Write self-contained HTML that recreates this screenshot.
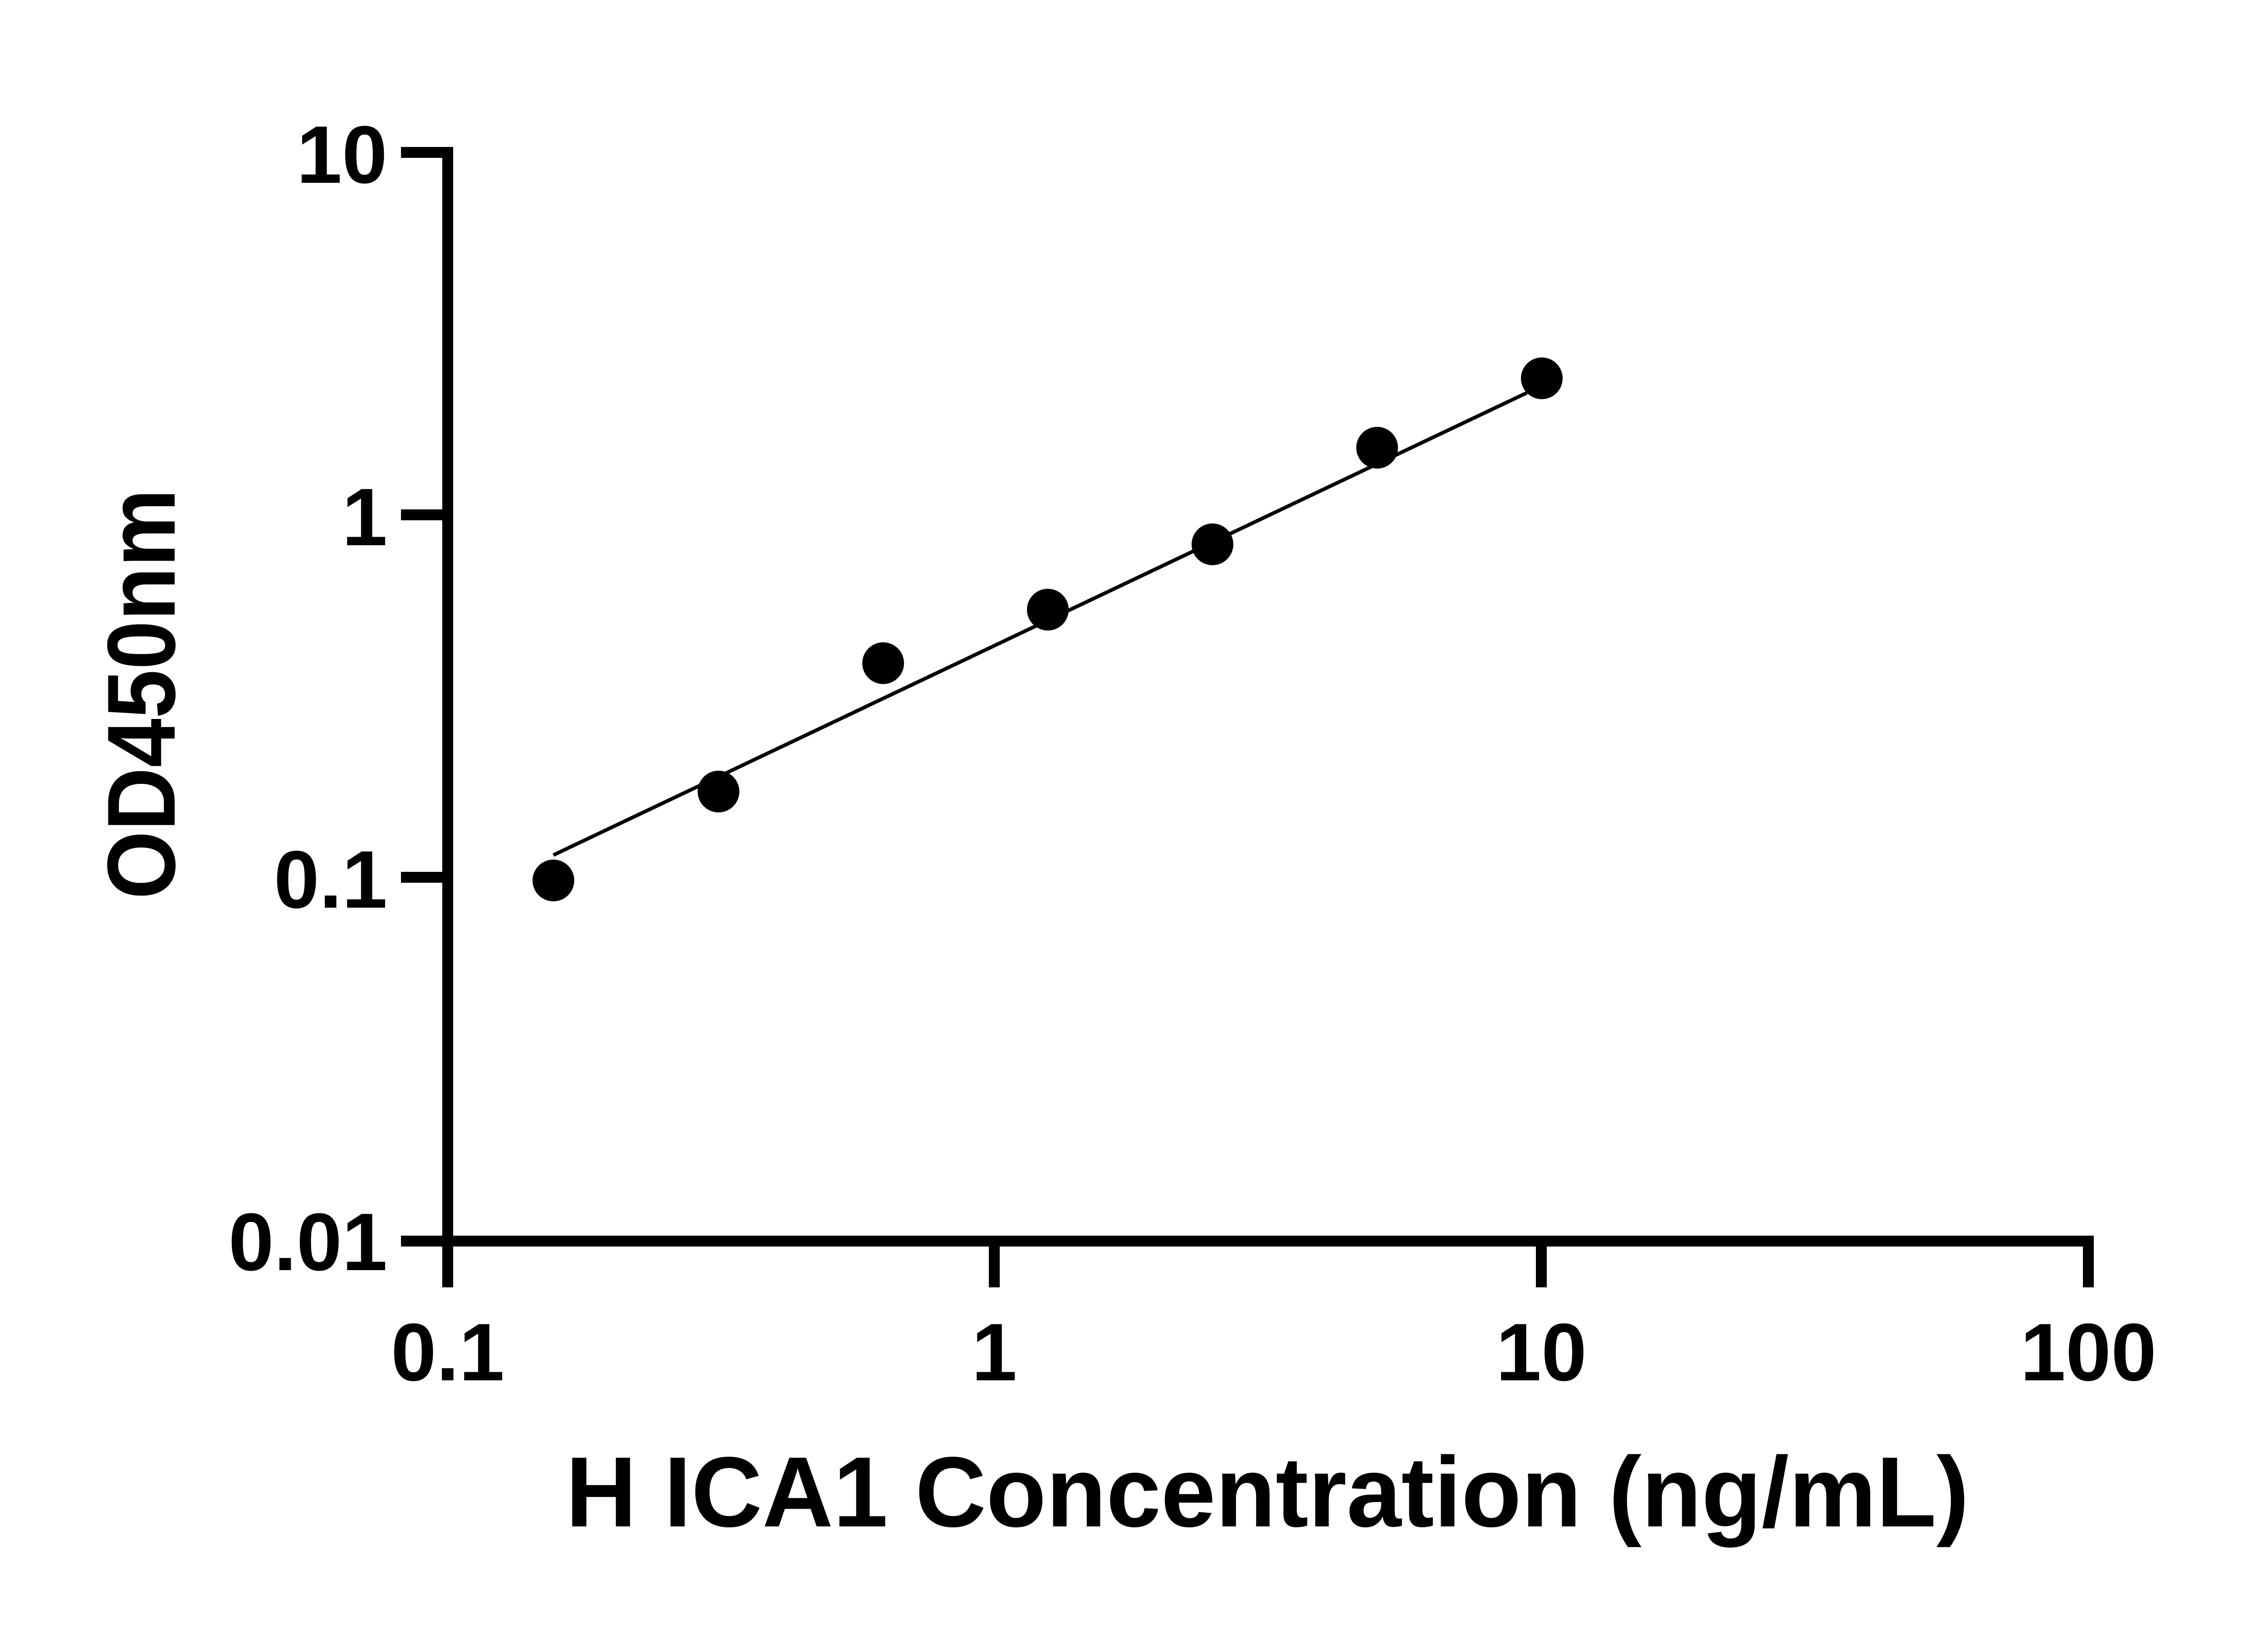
<!DOCTYPE html>
<html><head><meta charset="utf-8"><style>html,body{margin:0;padding:0;background:#fff}svg{display:block}</style></head>
<body>
<svg width="5136" height="3600" viewBox="0 0 5136 3600" xmlns="http://www.w3.org/2000/svg">
<rect width="5136" height="3600" fill="#fff"/>
<g stroke="#000" stroke-width="24" fill="none" stroke-linecap="butt">
<path d="M987 324 V2748"/>
<path d="M884 2736 H4616"/>
<path d="M884 336 H999 M884 1135 H999 M884 1934 H999"/>
<path d="M987 2736 V2838 M2192 2736 V2838 M3398 2736 V2838 M4604 2736 V2838"/>
</g>
<line x1="1220" y1="1885" x2="3366" y2="866" stroke="#000" stroke-width="8"/>
<g fill="#000">
<circle cx="1220" cy="1941" r="46"/>
<circle cx="1584" cy="1745" r="46"/>
<circle cx="1947" cy="1462" r="46"/>
<circle cx="2310" cy="1344" r="46"/>
<circle cx="2673" cy="1200" r="46"/>
<circle cx="3036" cy="987" r="46"/>
<circle cx="3399" cy="834" r="46"/>
</g>
<g font-family="Liberation Sans, sans-serif" font-weight="bold" font-size="180" fill="#000">
<g text-anchor="end">
<text x="854" y="403">10</text>
<text x="854" y="1202">1</text>
<text x="854" y="2001">0.1</text>
<text x="854" y="2800">0.01</text>
</g>
<g text-anchor="middle">
<text x="987" y="3043">0.1</text>
<text x="2192" y="3043">1</text>
<text x="3398" y="3043">10</text>
<text x="4604" y="3043">100</text>
</g>
<text x="2794" y="3365" font-size="220" text-anchor="middle" textLength="3094" lengthAdjust="spacingAndGlyphs">H ICA1 Concentration (ng/mL)</text>
<text transform="translate(385,1530) rotate(-90)" font-size="213" text-anchor="middle" textLength="905" lengthAdjust="spacingAndGlyphs">OD450nm</text>
</g>
</svg>
</body></html>
